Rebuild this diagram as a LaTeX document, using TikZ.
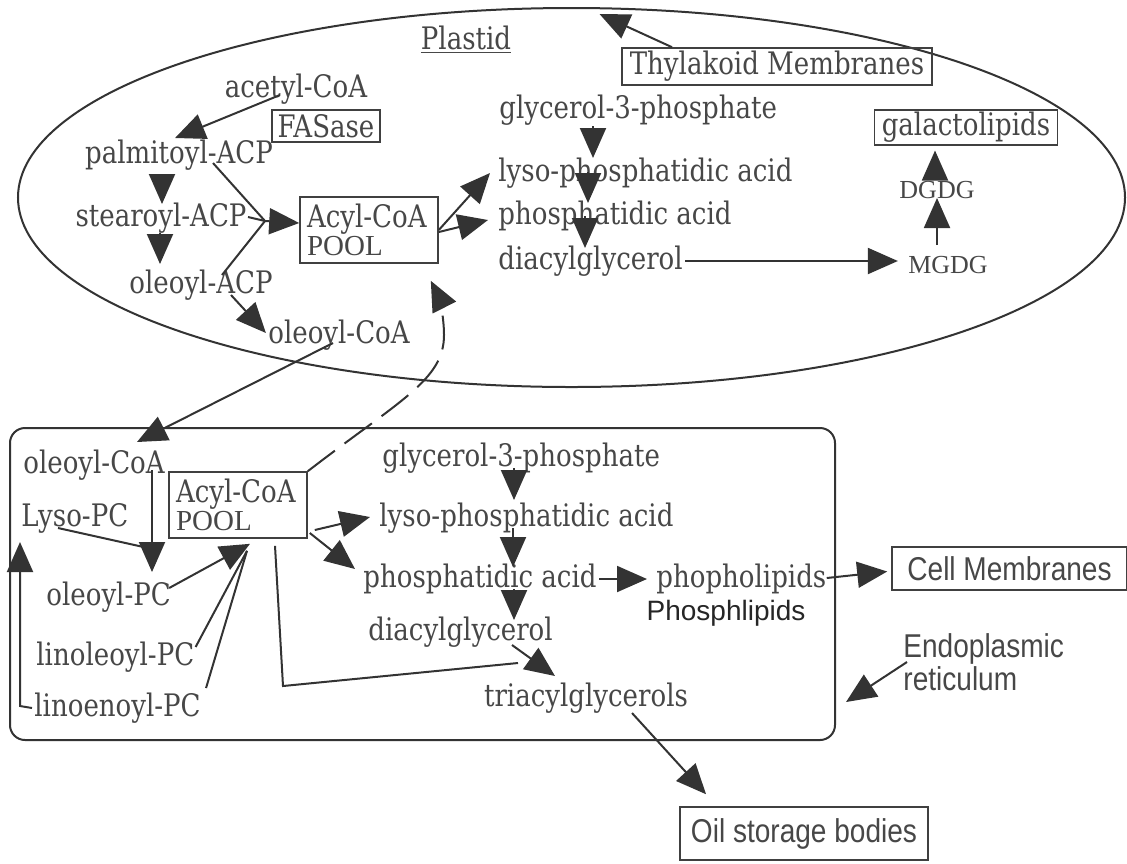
\documentclass[tikz,border=0pt]{standalone}
\usepackage{fontspec}
\setmainfont{DejaVu Serif}[FakeStretch=0.84]
\newfontfamily\timesfont{Liberation Serif}
\newfontfamily\optsans[FakeStretch=0.85]{Liberation Sans}
\newfontfamily\plainsans{Liberation Sans}
\usetikzlibrary{arrows.meta,calc,shapes.geometric}
\begin{document}
\begin{tikzpicture}[x=0.5pt,y=-0.5pt,
  lbl/.style={font=\fontsize{15.5}{15}\selectfont, text=black!72, inner sep=1pt},
  boxed/.style={lbl, draw=black!75, line width=0.8pt, inner sep=1pt},
  arr/.style={draw=black!80, line width=1pt, -{Triangle[length=15pt,width=13pt]}},
  ln/.style={draw=black!80, line width=1pt},
  cont/.style={draw=black!80, line width=1pt, inner sep=0pt},
  small/.style={lbl, font=\timesfont\fontsize{13}{14}\selectfont},
  opt/.style={lbl, font=\optsans\fontsize{16.5}{15}\selectfont},
  poolbox/.style={boxed, align=left, minimum width=69pt, minimum height=33pt, text width=62pt},
]
\useasboundingbox (0,0) rectangle (1127,863);
% containers
\node[cont, ellipse, minimum width=553.5pt, minimum height=189.5pt] (plastid) at (571.5,197.5) {};
\node[cont, rounded corners=7.5pt, minimum width=412.5pt, minimum height=156pt] (erbox) at (422.5,584) {};
% plastid nodes
\node[lbl] (plastidlbl) at (466,40) {\underline{Plastid}};
\node[boxed, minimum width=155pt, minimum height=18.5pt] (thyl) at (777,66.5) {Thylakoid Membranes};
\coordinate (thyltip) at ($(plastid.north)+(28,7)$);
\node[lbl] (acetyl) at (296,89) {acetyl-CoA};
\node[boxed, minimum width=54pt, minimum height=16pt] (fas) at (326,126) {FASase};
\node[lbl] (palm) at (179,155) {palmitoyl-ACP};
\node[lbl] (stear) at (161,218) {stearoyl-ACP};
\node[lbl] (oleacp) at (201,285) {oleoyl-ACP};
\node[lbl] (olecoa1) at (339,335) {oleoyl-CoA};
\node[poolbox] (pool1) at (369,230) {Acyl-CoA\\[-1pt]{\timesfont\fontsize{14.5}{15}\selectfont POOL}};
\node[lbl, anchor=west] (glyc1) at (497,110) {glycerol-3-phosphate};
\node[lbl, anchor=west] (lyso1) at (496,173) {lyso-phosphatidic acid};
\node[lbl, anchor=west] (phos1) at (496,216) {phosphatidic acid};
\node[lbl, anchor=west] (diag1) at (496,261) {diacylglycerol};
\node[boxed, minimum width=91.5pt, minimum height=14.5pt] (gal) at (966,127.5) {galactolipids};
\node[small] (dgdg) at (937,190) {DGDG};
\node[small] (mgdg) at (948,265) {MGDG};
% plastid arrows
\draw[arr] ($(thyl.north)+(-105,0)$) -- (thyltip);
\draw[arr] ($(acetyl)+(-16,6)$) -- ($(palm)+(-4,-17)$);
\draw[arr] ($(palm)+(-17,20)$) -- ($(stear)+(1,-14)$);
\draw[arr] ($(stear)+(-1,15)$) -- ($(oleacp)+(-41,-21)$);
\coordinate (conv) at (265,221);
\draw[ln] ($(palm)+(34,8)$) -- (conv);
\draw[ln] ($(stear)+(87,-1)$) -- (conv);
\draw[ln] ($(oleacp)+(21,-10)$) -- (conv);
\draw[arr] (conv) -- ($(pool1.west)+(0,-7)$);
\draw[arr] ($(oleacp)+(30,10)$) -- ($(olecoa1.west)+(0,-2)$);
\draw[arr] (pool1.east) -- ($(lyso1.west)+(-6,0)$);
\draw[arr] ($(pool1.east)+(0,2)$) -- ($(phos1.west)+(-8,4)$);
\draw[arr] ($(glyc1.west)+(96,16)$) -- ($(lyso1.west)+(97,-15)$);
\draw[arr] ($(lyso1.west)+(92,-1)$) -- ($(phos1.west)+(92,-13)$);
\draw[arr] ($(phos1.west)+(89,0)$) -- ($(diag1.west)+(89,-13)$);
\draw[arr] (diag1.east) -- ($(diag1.east -| mgdg.west)+(-8,0)$);
\draw[arr] ($(mgdg)+(-11,-20)$) -- ($(dgdg)+(0,8)$);
\draw[arr] ($(dgdg)+(-2,-14)$) -- ($(gal.south)+(-31,5)$);
% ER nodes
\node[lbl] (olecoa2) at (94,465) {oleoyl-CoA};
\node[poolbox] (pool2) at (238,505) {Acyl-CoA\\[-1pt]{\timesfont\fontsize{14.5}{15}\selectfont POOL}};
\node[lbl, anchor=west] (glyc2) at (380,458) {glycerol-3-phosphate};
\node[lbl, anchor=west] (lyso2) at (377,518) {lyso-phosphatidic acid};
\node[lbl, anchor=west] (phos2) at (361,579) {phosphatidic acid};
\node[lbl, anchor=west] (phopl) at (654,579) {phopholipids};
\node[lbl, font=\plainsans\fontsize{14}{16}\selectfont, text=black!85] (phosph) at (726,613) {Phosphlipids};
\node[lbl, anchor=west] (diag2) at (366,632) {diacylglycerol};
\node[lbl] (triag) at (586,698) {triacylglycerols};
\node[lbl, anchor=west] (lysopc) at (19,518) {Lyso-PC};
\node[lbl, anchor=west] (olepc) at (44,597) {oleoyl-PC};
\node[lbl, anchor=west] (linopc) at (34,657) {linoleoyl-PC};
\node[lbl, anchor=west] (linepc) at (32,708) {linoenoyl-PC};
\node[opt, draw=black!75, line width=0.8pt, minimum width=117.5pt, minimum height=21.5pt] (cellm) at (1009.5,568.5) {Cell Membranes};
\node[opt, align=left, anchor=west] (erlbl) at (901,662) {Endoplasmic\\reticulum};
\node[opt, draw=black!75, line width=0.8pt, minimum width=124pt, minimum height=26.5pt] (oil) at (804,833.5) {Oil storage bodies};
% ER arrows
\draw[arr] ($(olecoa1)+(-6,8)$) -- ($(olecoa2)+(43,-23)$);
\draw[arr, dash pattern=on 17pt off 6pt] (pool2.north east) .. controls (400,400) and (444,380) .. (444,335) .. controls (444,315) and (438,295) .. ($(pool1.south east)+(-8,17)$);
\draw[arr] ($(olecoa2)+(58,5)$) coordinate (ovs) -- ($(ovs |- olepc.west)+(0,-25)$);
\draw[ln] ($(lysopc.west)+(39,10)$) -- ($(ovs |- olepc.west)+(-4,-49)$);
\draw[arr] ($(olepc.east)+(-4,-9)$) -- ($(pool2.south)+(12,5)$);
\draw[ln] ($(linopc.east)+(-1,-10)$) -- ($(pool2.south)+(9,12)$);
\draw[ln] ($(linepc.east)+(3,-20)$) -- ($(pool2.south)+(9,12)$);
\draw[arr] (linepc.west) -- ++(-12,-2) coordinate (lc) -- ($(lc |- lysopc.west)+(0,24)$);
\draw[arr] ($(pool2.east)+(7,25)$) -- ($(lyso2.west)+(-7,-1)$);
\draw[arr] ($(pool2.east)+(2,28)$) -- ($(phos2.west)+(-6,-10)$);
\draw[arr] ($(glyc2.west)+(134,10)$) -- ($(lyso2.west)+(137,-18)$);
\draw[arr] ($(lyso2.west)+(136,10)$) -- ($(phos2.west)+(152,-12)$);
\draw[arr] ($(phos2.west)+(153,10)$) -- ($(diag2.west)+(148,-12)$);
\draw[arr] (phos2.east) -- ($(phopl.west)+(-7,0)$);
\draw[arr] ($(phopl.east)+(-2,-1)$) -- ($(cellm.west)+(-4,3)$);
\coordinate (bend) at (283,686);
\draw[ln] ($(pool2.south)+(37,7)$) -- (bend) -- ($(triag)+(-68,-35)$);
\draw[arr] ($(diag2.west)+(146,13)$) -- ($(triag)+(-31,-22)$);
\draw[arr] ($(triag)+(46,15)$) -- ($(oil.north)+(-98,-12)$);
\draw[arr] ($(erlbl.west)+(6,0)$) -- ($(erbox.east)+(10,118)$);
\end{tikzpicture}
\end{document}
